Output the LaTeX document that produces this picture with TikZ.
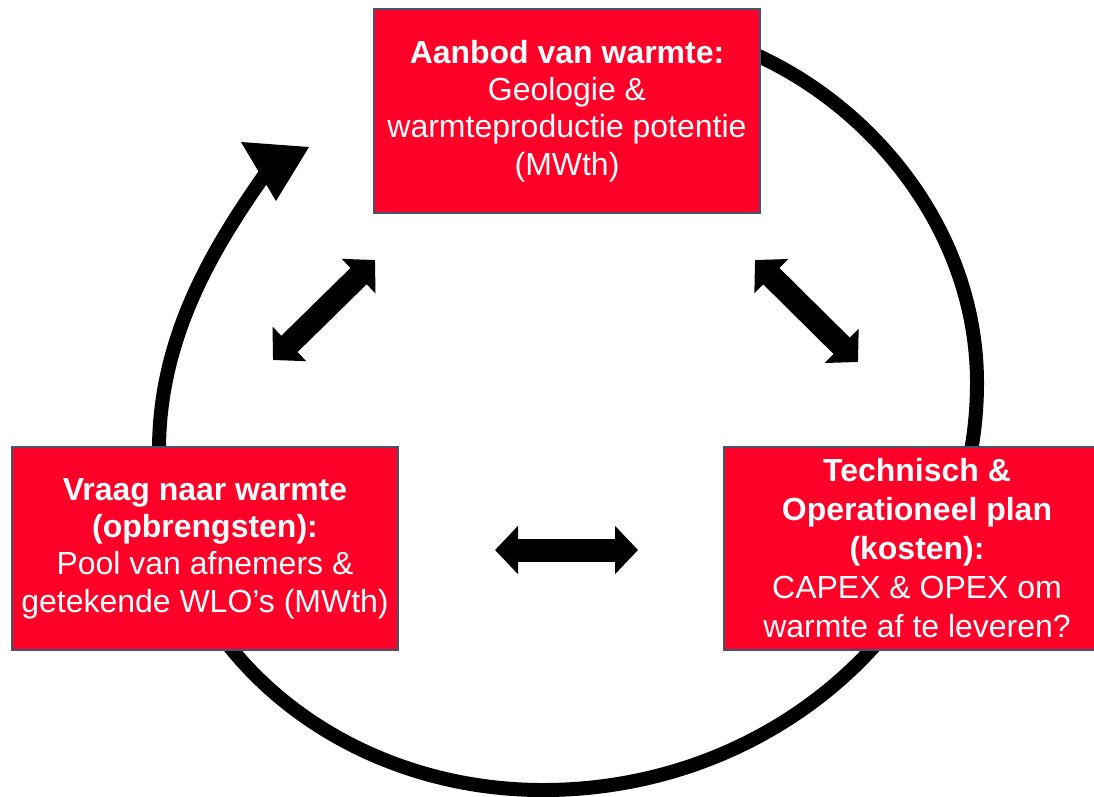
\documentclass[tikz,border=0pt]{standalone}
\usepackage{fontspec}
\setmainfont{Liberation Sans}
\usetikzlibrary{arrows.meta}
\definecolor{boxred}{RGB}{255,0,41}
\definecolor{boxline}{RGB}{68,84,106}

\begin{document}
\begin{tikzpicture}[x=0.02cm,y=-0.02cm,font=\fontsize{18.2}{21.3}\selectfont,
    box/.style={draw=boxline,line width=1.1pt,fill=boxred,text=white,align=center,inner sep=0pt},
    bigarrow/.style={line width=0.46cm,{Triangle[length=0.46cm,width=0.94cm]}-{Triangle[length=0.46cm,width=0.94cm]}}]
    \useasboundingbox (0,0) rectangle (1094,796);
    % kringloop achter de blokken
    \draw[line width=0.28cm](740,48) .. controls (870,100) and (977,230) .. (977,383)
        .. controls (977,608) and (783,790) .. (543,790)
        .. controls (331,790) and (159,638) .. (159,450)
        .. controls (159,335) and (215,245) .. (268,170);
    \fill (309,147)--(241,142)--(276,201)--cycle;
    % blokken
    \node[box,minimum width=7.72cm,minimum height=4.08cm](aanbod) at (567,111){\textbf{Aanbod van warmte:}\\Geologie \&\\warmteproductie potentie\\(MWth)};
    \node[box,minimum width=7.72cm,minimum height=4.06cm](vraag) at (205,548.5){\textbf{Vraag naar warmte}\\\textbf{(opbrengsten):}\\Pool van afnemers \&\\getekende WLO’s (MWth)};
    \node[box,minimum width=7.72cm,minimum height=4.06cm,font=\fontsize{18.2}{22.2}\selectfont](plan) at (917,548.5){\textbf{Technisch \&}\\\textbf{Operationeel plan}\\\textbf{(kosten):}\\CAPEX \& OPEX om\\warmte af te leveren?};
    % wisselwerking
    \coordinate (lo) at (273,360);
    \coordinate (lb) at (375,260);
    \coordinate (rb) at (755,260);
    \coordinate (ro) at (858,362);
    \coordinate (ml) at (495,550);
    \coordinate (mr) at (638,550);
    \draw[bigarrow](lo)--(lb);
    \draw[bigarrow](rb)--(ro);
    \draw[bigarrow](ml)--(mr);
\end{tikzpicture}
\end{document}
